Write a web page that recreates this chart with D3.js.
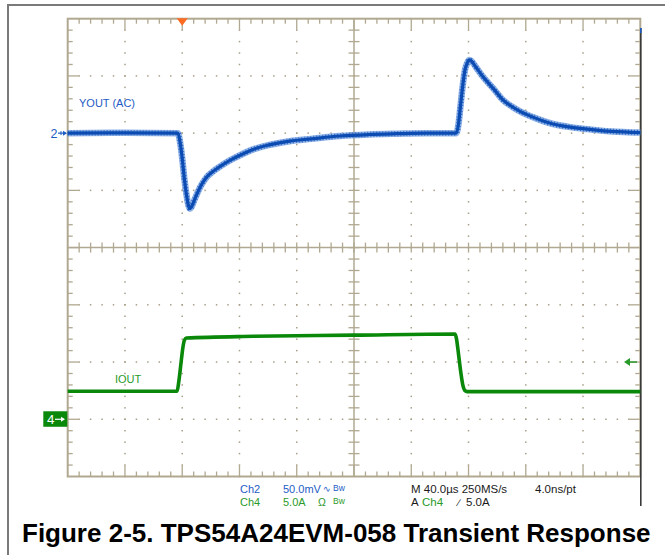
<!DOCTYPE html>
<html>
<head>
<meta charset="utf-8">
<script src="https://cdn.jsdelivr.net/npm/d3@7"></script>
<style>
  body { margin: 0; background: #fff; }
  svg text { font-family: "Liberation Sans", Arial, sans-serif; }
</style>
</head>
<body>
<svg id="chart" width="665" height="555"></svg>
<script>

// Scope settings: 40 us/div, Ch2 50 mV/div (AC), Ch4 5 A/div
var timeDomain = [-80, 320];     // us, trigger at 0
var ch2Domain = [-300, 100];     // mV
var ch4Domain = [-5, 35];        // A
var triggerLevel = 5.0;          // A

// Ch2: output voltage deviation [us, mV]
var ch2Trace = [
  [-80, 0], [-40, 0.3], [-3, 0], [-1.5, -8], [0, -22], [1.5, -40], [3, -54],
  [4.3, -63], [5.4, -66], [6.5, -64.5], [8, -60], [10, -54], [12.4, -47.5],
  [15, -42], [17, -38.5], [21, -34], [26, -29.5], [33, -24], [40, -19.5],
  [50, -14], [60, -10.5], [75, -7], [90, -5], [110, -2.5], [130, -1.2],
  [150, -0.5], [170, 0], [191.5, 0], [193, 8], [194.5, 25], [196, 42],
  [197.5, 55], [199, 61], [200.5, 64], [202, 63], [205, 58], [209, 51],
  [213, 45], [218, 38], [224, 29], [230, 23.5], [236, 19], [245, 14],
  [259, 8], [270, 5.5], [283, 3.5], [300, 1.5], [320, 0.5]
];

// Ch4: output current [us, A]
var ch4Trace = [
  [-80, 2.45], [-3.6, 2.45], [-2.5, 3.2], [-1.5, 4.2], [-0.5, 5.3], [0.5, 6.3],
  [1.5, 6.9], [2.8, 7.1], [50, 7.25], [120, 7.35], [190.5, 7.45], [191.5, 7.1],
  [193, 5.7], [194.5, 4.2], [196, 3.0], [197.5, 2.5], [199, 2.42], [320, 2.42]
];

var ch2Label = "YOUT (AC)";
var ch4Label = "IOUT";
var titleText = "Figure 2-5. TPS54A24EVM-058 Transient Response";

var blue = "#1d5cc4", blueTrace = "#0c4cb2", blueHalo = "#6a98de";
var green = "#2a9a2a", greenTrace = "#0a880a";
var gridCol = "#b0a890", dotCol = "#a89f88";

// plot box (window.top is reserved, so no "top" here)
var pL = 67.7, pR = 640.3, pT = 18.7, pB = 476.5;

var svg = d3.select("#chart");

var x = d3.scaleLinear().domain(timeDomain).range([pL, pR]);
var y2 = d3.scaleLinear().domain(ch2Domain).range([pB, pT]);
var y4 = d3.scaleLinear().domain(ch4Domain).range([pB, pT]);
// plain division scales for the graticule
var yDiv = d3.scaleLinear().domain([0, 8]).range([pT, pB]);
var xDiv = d3.scaleLinear().domain([0, 10]).range([pL, pR]);

// outer frame
svg.append("line").attr("x1", 7).attr("x2", 665).attr("y1", 5).attr("y2", 5)
  .attr("stroke", "#7a7a7a").attr("stroke-width", 2);
svg.append("line").attr("x1", 8).attr("x2", 8).attr("y1", 4).attr("y2", 555)
  .attr("stroke", "#7a7a7a").attr("stroke-width", 2);

var grid = svg.append("g");

// dotted graticule
var minorX = d3.range(0, 50.01, 1).map(function(i) { return i / 5; });
var minorY = d3.range(0, 40.01, 1).map(function(i) { return i / 5; });

[1, 2, 3, 4, 6, 7, 8, 9].forEach(function(d) {
  grid.selectAll(null).data(minorY).enter().append("rect")
    .attr("x", xDiv(d) - 0.75).attr("y", function(v) { return yDiv(v) - 0.75; })
    .attr("width", 1.5).attr("height", 1.5).attr("fill", dotCol);
});
[1, 2, 3, 5, 6, 7].forEach(function(d) {
  grid.selectAll(null).data(minorX).enter().append("rect")
    .attr("y", yDiv(d) - 0.75).attr("x", function(v) { return xDiv(v) - 0.75; })
    .attr("width", 1.5).attr("height", 1.5).attr("fill", dotCol);
});

// border
grid.append("rect").attr("x", pL).attr("y", pT)
  .attr("width", pR - pL).attr("height", pB - pT)
  .attr("fill", "none").attr("stroke", gridCol).attr("stroke-width", 2);

// center cross
grid.append("line").attr("x1", xDiv(5)).attr("x2", xDiv(5)).attr("y1", pT).attr("y2", pB)
  .attr("stroke", gridCol).attr("stroke-width", 1.5);
grid.append("line").attr("x1", pL).attr("x2", pR).attr("y1", yDiv(4)).attr("y2", yDiv(4))
  .attr("stroke", gridCol).attr("stroke-width", 1.5);

function tickLen(v) { return Math.abs(v - Math.round(v)) < 1e-6 ? 11 : 5; }

// border + center ticks
minorX.filter(function(v) { return v > 0 && v < 10; }).forEach(function(v) {
  var L = tickLen(v);
  grid.append("line").attr("x1", xDiv(v)).attr("x2", xDiv(v)).attr("y1", pT).attr("y2", pT + L)
    .attr("stroke", gridCol).attr("stroke-width", 1.3);
  grid.append("line").attr("x1", xDiv(v)).attr("x2", xDiv(v)).attr("y1", pB).attr("y2", pB - L)
    .attr("stroke", gridCol).attr("stroke-width", 1.3);
  grid.append("line").attr("x1", xDiv(v)).attr("x2", xDiv(v)).attr("y1", yDiv(4) - 5).attr("y2", yDiv(4) + 5)
    .attr("stroke", gridCol).attr("stroke-width", 1.3);
});
minorY.filter(function(v) { return v > 0 && v < 8; }).forEach(function(v) {
  var L = tickLen(v);
  grid.append("line").attr("y1", yDiv(v)).attr("y2", yDiv(v)).attr("x1", pL).attr("x2", pL + L)
    .attr("stroke", gridCol).attr("stroke-width", 1.3);
  grid.append("line").attr("y1", yDiv(v)).attr("y2", yDiv(v)).attr("x1", pR).attr("x2", pR - L)
    .attr("stroke", gridCol).attr("stroke-width", 1.3);
  grid.append("line").attr("y1", yDiv(v)).attr("y2", yDiv(v)).attr("x1", xDiv(5) - 5.5).attr("x2", xDiv(5) + 5.5)
    .attr("stroke", gridCol).attr("stroke-width", 1.3);
});

// right dark frame edge
svg.append("line").attr("x1", 640.8).attr("x2", 640.8).attr("y1", 28).attr("y2", 506)
  .attr("stroke", "#3a3a3a").attr("stroke-width", 1.6);
svg.append("line").attr("x1", 640.8).attr("x2", 640.8).attr("y1", 28).attr("y2", 33)
  .attr("stroke", blue).attr("stroke-width", 1.6);

// traces
var line2 = d3.line().x(function(d) { return x(d[0]); }).y(function(d) { return y2(d[1]); })
  .curve(d3.curveMonotoneX);
var line4 = d3.line().x(function(d) { return x(d[0]); }).y(function(d) { return y4(d[1]); })
  .curve(d3.curveMonotoneX);

svg.append("path").datum(ch4Trace).attr("d", line4)
  .attr("fill", "none").attr("stroke", greenTrace).attr("stroke-width", 3.6);

// noisy Ch2 band: light halo, sparse darker hatch, solid core
svg.append("path").datum(ch2Trace).attr("d", line2)
  .attr("fill", "none").attr("stroke", blueHalo).attr("stroke-width", 6.5)
  .attr("stroke-opacity", 0.75);
svg.append("path").datum(ch2Trace).attr("d", line2)
  .attr("fill", "none").attr("stroke", "#2a66c6").attr("stroke-width", 5.5)
  .attr("stroke-dasharray", "0.8 2.2");
svg.append("path").datum(ch2Trace).attr("d", line2)
  .attr("fill", "none").attr("stroke", blueTrace).attr("stroke-width", 3.2);

// trigger position marker
var tx = x(0);
svg.append("path")
  .attr("d", "M" + (tx - 5.5) + "," + (pT - 0.5) + "L" + (tx + 5.5) + "," + (pT - 0.5) + "L" + tx + "," + (pT + 7) + "Z")
  .attr("fill", "#fb6c22");

// trigger level arrow (right side)
var ty = y4(triggerLevel);
svg.append("line").attr("x1", 628).attr("x2", 637).attr("y1", ty).attr("y2", ty)
  .attr("stroke", green).attr("stroke-width", 1.5);
svg.append("path")
  .attr("d", "M624," + ty + "L630," + (ty - 4) + "L630," + (ty + 4) + "Z").attr("fill", green);

// channel ground markers
var g2y = y2(0);
svg.append("text").attr("x", 50.5).attr("y", g2y + 4.5).attr("fill", blue)
  .attr("font-size", 12.5).text("2");
svg.append("line").attr("x1", 58).attr("x2", 66).attr("y1", g2y).attr("y2", g2y)
  .attr("stroke", blue).attr("stroke-width", 1.2);
svg.append("path").attr("d", "M67," + g2y + "L63," + (g2y - 2.5) + "L63," + (g2y + 2.5) + "Z").attr("fill", blue);
svg.append("line").attr("x1", 61).attr("x2", 61).attr("y1", g2y - 2).attr("y2", g2y + 2)
  .attr("stroke", blue).attr("stroke-width", 1);

var g4y = y4(0);
svg.append("rect").attr("x", 43.3).attr("y", g4y - 8).attr("width", 24).attr("height", 15.5)
  .attr("fill", greenTrace);
svg.append("text").attr("x", 47).attr("y", g4y + 5).attr("fill", "#fff")
  .attr("font-size", 13.5).text("4");
svg.append("line").attr("x1", 55).attr("x2", 64).attr("y1", g4y).attr("y2", g4y)
  .attr("stroke", "#fff").attr("stroke-width", 1.2);
svg.append("path").attr("d", "M65," + g4y + "L61," + (g4y - 2.5) + "L61," + (g4y + 2.5) + "Z").attr("fill", "#fff");

// channel labels
svg.append("text").attr("x", 79).attr("y", 106.5).attr("fill", blue)
  .attr("font-size", 11).text(ch2Label);
svg.append("text").attr("x", 115).attr("y", 382.5).attr("fill", green)
  .attr("font-size", 11).text(ch4Label);

// readout
var ro = svg.append("g").attr("font-size", 11);
function txt(xp, yp, s, c, fs) {
  var t = ro.append("text").attr("x", xp).attr("y", yp).attr("fill", c).text(s);
  if (fs) t.attr("font-size", fs);
  return t;
}
txt(240, 493, "Ch2", blue);
txt(283, 493, "50.0mV", blue);
txt(323, 492, "\u223F", blue, 8.5);
txt(333, 491, "Bw", blue, 8.5);
txt(411, 493, "M 40.0\u00B5s 250MS/s", "#1a1a1a", 11.5);
txt(535, 493, "4.0ns/pt", "#1a1a1a", 11.5);
txt(240, 506, "Ch4", green);
txt(283, 506, "5.0A", green);
txt(318, 506, "\u03A9", green, 10.5);
txt(333, 504, "Bw", green, 8.5);
txt(411, 506, "A", "#1a1a1a", 11.5);
txt(422, 506, "Ch4", green, 11.5);
txt(458, 506, "\u2215", "#1a1a1a", 10);
txt(466, 506, "5.0A", "#1a1a1a", 11.5);

// caption
svg.append("text").attr("x", 22).attr("y", 542).attr("fill", "#000")
  .attr("font-size", 26).attr("font-weight", "bold").text(titleText);

</script>
</body>
</html>
